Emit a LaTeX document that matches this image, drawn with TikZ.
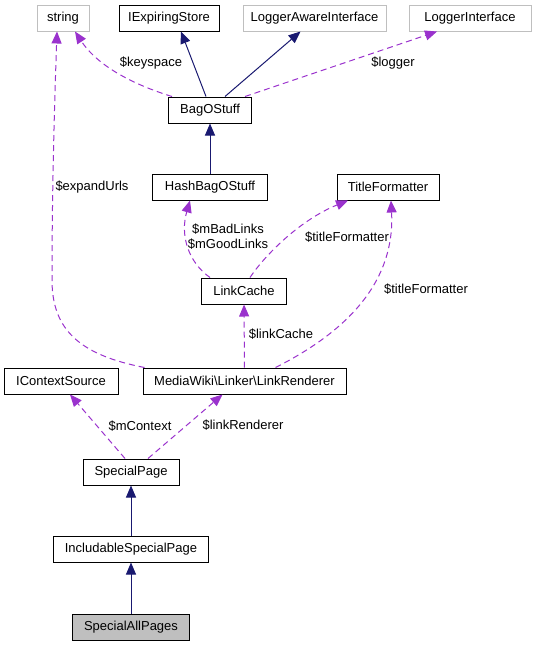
\documentclass[tikz,border=0pt]{standalone}
\usepackage{fontspec}
\setmainfont{Liberation Sans}
\usetikzlibrary{arrows.meta}
\definecolor{edgeblue}{HTML}{191970}
\definecolor{edgepurple}{HTML}{9A32CD}
\definecolor{boxgray}{HTML}{BFBFBF}
\begin{document}
\begin{tikzpicture}[x=1pt,y=-1pt,
  cls/.style={draw=black,fill=white,line width=1pt,minimum height=26pt,inner sep=0pt,font=\fontsize{13}{15}\selectfont},
  ext/.style={cls,draw=boxgray},
  inh/.style={draw=edgeblue,line width=1pt,-{Triangle[length=12pt,width=10pt]}},
  use/.style={draw=edgepurple,line width=1pt,dash pattern=on 6pt off 4pt,-{Triangle[length=12pt,width=10pt]}},
  lbl/.style={font=\fontsize{13}{15}\selectfont,inner sep=0pt,align=center}]
\useasboundingbox (0,0) rectangle (543,645);
\node[ext,minimum width=52pt] (str) at (63,18) {string};
\node[cls,minimum width=100pt] (ies) at (169,18) {IExpiringStore};
\node[ext,minimum width=143pt] (lai) at (314.5,18) {LoggerAwareInterface};
\node[ext,minimum width=122pt] (li) at (470,18) {LoggerInterface};
\node[cls,minimum width=83pt] (bag) at (210,110) {BagOStuff};
\node[cls,minimum width=115pt] (hash) at (210,187) {HashBagOStuff};
\node[cls,minimum width=102pt] (tf) at (388,187) {TitleFormatter};
\node[cls,minimum width=85pt] (cache) at (244,291) {LinkCache};
\node[cls,minimum width=114pt] (ctx) at (61,381) {IContextSource};
\node[cls,minimum width=203pt] (rend) at (244.5,381) {MediaWiki\textbackslash Linker\textbackslash LinkRenderer};
\node[cls,minimum width=96pt] (sp) at (131,472) {SpecialPage};
\node[cls,minimum width=155pt] (isp) at (131,549) {IncludableSpecialPage};
\node[cls,fill=boxgray,minimum width=117pt] (sap) at (131,627) {SpecialAllPages};

\draw[inh] ([xshift=-4pt]bag.north) -- ([xshift=12pt]ies.south);
\draw[inh] ([xshift=15pt]bag.north) -- ([xshift=-14pt]lai.south);
\draw[use] ([xshift=4pt]bag.north west) .. controls (125,82) and (95,62) .. ([xshift=12pt]str.south);
\draw[use] ([xshift=-7pt]bag.north east) -- ([xshift=-33pt]li.south);
\node[lbl] (lkey) at (151,63) {\$keyspace};
\node[lbl] (llog) at (393,63) {\$logger};
\draw[inh] (hash) -- (bag);
\draw[use] ([xshift=-34pt]cache.north) .. controls (188,262) and (180,235) .. ([xshift=-20pt]hash.south);
\node[lbl] (llinks) at (228,237) {\$mBadLinks\\\$mGoodLinks};
\draw[use] ([xshift=6pt]cache.north) .. controls (265,255) and (300,220) .. ([xshift=-40pt]tf.south);
\node[lbl] (ltf) at (347,237) {\$titleFormatter};
\draw[use] (rend) -- (cache);
\node[lbl] (lcache) at (281,334) {\$linkCache};
\draw[use] ([xshift=31pt]rend.north) .. controls (350,330) and (395,280) .. ([xshift=3pt]tf.south);
\node[lbl] (ltf2) at (426,289) {\$titleFormatter};
\draw[use] ([xshift=2pt]rend.north west) .. controls (80,355) and (52,330) .. (52,280)
  .. controls (52,180) and (55,90) .. ([xshift=-6pt]str.south);
\node[lbl] (lurl) at (92,187) {\$expandUrls};
\draw[use] ([xshift=-6pt]sp.north) -- ([xshift=9pt]ctx.south);
\draw[use] ([xshift=17pt]sp.north) -- ([xshift=-22pt]rend.south);
\node[lbl] (lctx) at (140,426) {\$mContext};
\node[lbl] (lrend) at (243,425) {\$linkRenderer};
\draw[inh] (isp) -- (sp);
\draw[inh] (sap) -- (isp);
\end{tikzpicture}
\end{document}
